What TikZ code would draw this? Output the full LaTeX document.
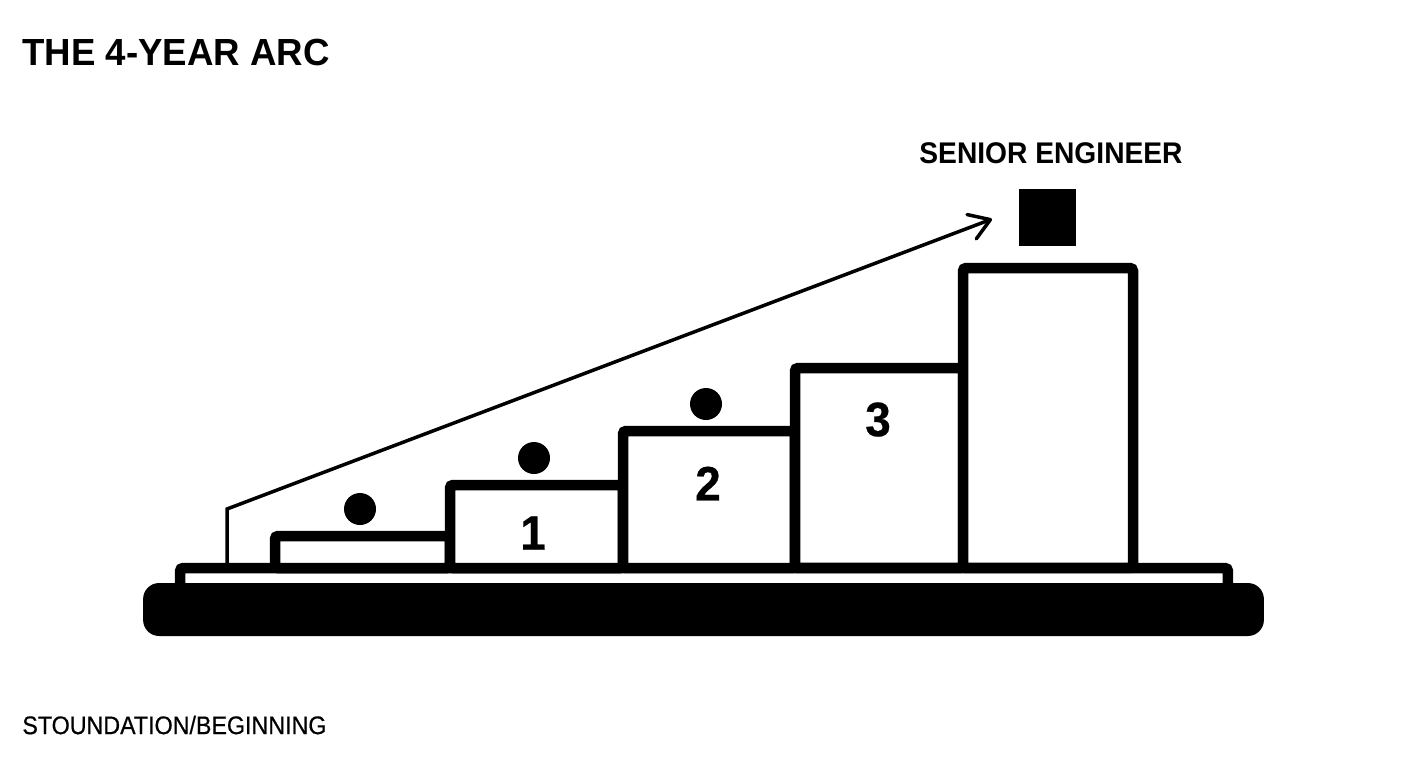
\documentclass[tikz,border=0pt]{standalone}
\usepackage{fontspec}
\setmainfont{Liberation Sans}
\newfontfamily\titlefont[FakeStretch=0.97,BoldFont={Liberation Sans Bold}]{Liberation Sans}
\newfontfamily\seniorfont[FakeStretch=0.944]{Liberation Sans}
\newfontfamily\numfont[FakeStretch=0.95,FakeBold=0.5]{Liberation Sans Bold}
\newfontfamily\capfont[FakeStretch=0.913,FakeBold=0.5]{Liberation Sans}
\usetikzlibrary{arrows.meta}
\begin{document}
\begin{tikzpicture}[x=0.02cm,y=-0.02cm,>={Straight Barb[length=0.4cm,width=0.52cm,round]},
    step node/.style={rectangle,draw=black,fill=white,line width=0.21cm,rounded corners=0.06cm,inner sep=0pt},
    dot node/.style={circle,fill=black,inner sep=0pt,minimum size=0.64cm},
    num node/.style={font=\numfont\fontsize{27.5}{30}\selectfont,inner sep=0pt},
    head node/.style={font=\seniorfont\bfseries\fontsize{17}{20}\selectfont,inner sep=0pt}]

   \useasboundingbox (0,0) rectangle (1408,768);

   % platform and base
   \node[step node, minimum width=20.96cm, minimum height=0.84cm] (platform) at (704,589) {};
   \node[fill=black, rounded corners=0.32cm, inner sep=0pt, minimum width=22.42cm, minimum height=1.06cm] (base) at (703.5,609.5) {};

   % stairs
   \node[step node, minimum width=3.5cm, minimum height=0.64cm] (s0) at (362.5,552) {};
   \node[step node, minimum width=3.46cm, minimum height=1.66cm] (s1) at (536.5,526.5) {};
   \node[step node, minimum width=3.44cm, minimum height=2.74cm] (s2) at (709,499.5) {};
   \node[step node, minimum width=3.36cm, minimum height=4cm] (s3) at (879,468) {};
   \node[step node, minimum width=3.4cm, minimum height=6cm] (s4) at (1048,418) {};

   % numbers
   \node[num node] (n1) at (533,533) {1};
   \node[num node] (n2) at (708,483.5) {2};
   \node[num node] (n3) at (878,419.5) {3};

   % dots
   \node[dot node] (d0) at (360,509) {};
   \node[dot node] (d1) at (534,458) {};
   \node[dot node] (d2) at (706,404) {};

   % top
   \node[fill=black, inner sep=0pt, minimum size=1.14cm] (top) at (1047.5,217.5) {};
   \node[head node] (senior) at (1051,153) {SENIOR ENGINEER};

   % arc line
   \coordinate (foot) at (227,563);
   \coordinate (bend) at (227,509);
   \coordinate (tip) at (992,219);
   \draw[->,line width=0.07cm,miter limit=10] (foot) -- (bend) -- (tip);

   % texts
   \node[font=\titlefont\bfseries\fontsize{21.5}{26}\selectfont, anchor=west, inner sep=0pt] (title) at (22,52) {THE 4-YEAR ARC};
   \node[font=\capfont\fontsize{14.5}{16}\selectfont, anchor=west, inner sep=0pt] (caption) at (22,725) {STOUNDATION/BEGINNING};
\end{tikzpicture}
\end{document}
